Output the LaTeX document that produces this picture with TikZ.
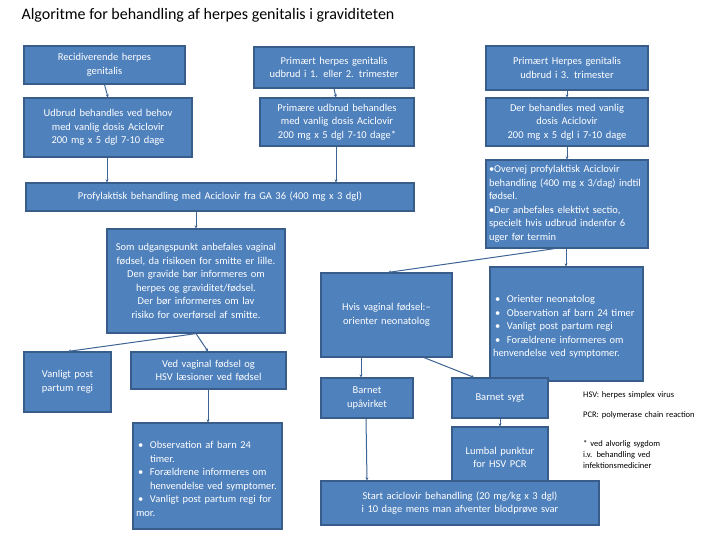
\documentclass[tikz,border=0pt]{standalone}
\usepackage{fontspec}
\setmainfont{Carlito}
\usetikzlibrary{arrows.meta,calc}
\definecolor{bfill}{HTML}{4F81BD}
\definecolor{bline}{HTML}{385D8A}
\hyphenpenalty=10000
\exhyphenpenalty=10000
\newcommand{\bx}[7][]{%
  \path let \p1=(#3,#4), \p2=(#5,#6) in
  node[box, minimum width={\x2-\x1}, minimum height={\y1-\y2}, text width={\x2-\x1-6pt}, #1] (#2) at ($(\p1)!0.5!(\p2)$) {#7};}
\newcommand{\bi}[1]{\par\hangindent=14pt\hangafter=1\noindent\makebox[14pt][l]{\kern2pt•}#1}
\begin{document}
\begin{tikzpicture}[x=1pt,y=-1pt,
  box/.style={draw=bline, line width=1.2pt, fill=bfill, text=white, font=\fontsize{10.5}{13.5}\selectfont, align=center, inner sep=1pt},
  lst/.style={align=left},
  con/.style={draw=bline!80!bfill, line width=1pt, -{Stealth[length=3pt,width=3pt]}}]
\useasboundingbox (0,0) rectangle (720,540);
\node[anchor=west, font=\fontsize{16}{18}\selectfont] (title) at (18,15) {Algoritme for behandling af herpes genitalis i graviditeten};
\bx{r1}{24}{46}{185}{84}{Recidiverende herpes\\genitalis}
\bx{r2}{24}{98}{192}{157}{Udbrud behandles ved behov med vanlig dosis Aciclovir 200 mg x 5 dgl 7-10 dage}
\bx{p1}{254}{47}{414}{88}{Primært herpes genitalis udbrud i 1. eller 2. trimester}
\bx{p2}{260}{98}{414}{146}{Primære udbrud behandles med vanlig dosis Aciclovir 200 mg x 5 dgl 7-10 dage*}
\bx{t1}{486}{46}{648}{90}{Primært Herpes genitalis\\udbrud i 3. trimester}
\bx{t2}{486}{98}{648}{146}{Der behandles med vanlig\\dosis Aciclovir\\200 mg x 5 dgl i 7-10 dage}
\bx[lst]{t3}{486}{160}{648}{248}{•Overvej profylaktisk Aciclovir behandling (400 mg x 3/dag) indtil fødsel.\par •Der anbefales elektivt sectio, specielt hvis udbrud indenfor 6 uger før termin}
\bx{prof}{26}{183}{414}{211}{Profylaktisk behandling med Aciclovir fra GA 36 (400 mg x 3 dgl)}
\bx{som}{107}{229}{285}{333}{Som udgangspunkt anbefales vaginal fødsel, da risikoen for smitte er lille.\\Den gravide bør informeres om herpes og graviditet/fødsel.\\Der bør informeres om lav risiko for overførsel af smitte.}
\bx{hvis}{321}{273}{452}{357}{Hvis vaginal fødsel:–\\orienter neonatolog}
\bx[lst]{ori}{490}{267}{643}{381}{\bi{Orienter neonatolog}\bi{Observation af barn 24 timer}\bi{Vanligt post partum regi}\bi{Forældrene informeres om henvendelse ved symptomer.}}
\bx{van}{24}{352}{111}{412}{Vanligt post\\partum regi}
\bx{ved}{131}{352}{286}{389}{Ved vaginal fødsel og HSV læsioner ved fødsel}
\bx[lst]{obs}{133}{423}{282}{529}{\bi{Observation af barn 24 timer.}\bi{Forældrene informeres om henvendelse ved symptomer.}\bi{Vanligt post partum regi for mor.}}
\bx{bup}{321}{378}{413}{418}{Barnet\\upåvirket}
\bx{bsy}{452}{378}{548}{418}{Barnet sygt}
\bx{lum}{452}{427}{548}{488}{Lumbal punktur\\for HSV PCR}
\bx{start}{321}{481}{599}{525}{Start aciclovir behandling (20 mg/kg x 3 dgl) i 10 dage mens man afventer blodprøve svar}
\begin{scope}[font=\fontsize{8.5}{11}\selectfont, anchor=north west, align=left, text width=122pt, inner sep=0pt]
\node (n1) at (583,391) {HSV: herpes simplex virus};
\node (n2) at (583,411) {PCR: polymerase chain reaction};
\node (n3) at (583,440) {* ved alvorlig sygdom i.v. behandling ved infektionsmediciner};
\end{scope}
\draw[con] (r1.south) -- (r2.north);
\draw[con] (r2.south -| 107,0) -- (prof.north -| 107,0);
\draw[con] (p1.south -| 334,0) -- (p2.north -| 336,0);
\draw[con] (p2.south -| 336,0) -- (prof.north -| 336,0);
\draw[con] (t1.south) -- (t2.north);
\draw[con] (t2.south) -- (t3.north);
\draw[con] (prof.south -| 196,0) -- (som.north -| 196,0);
\draw[con] (t3.south -| 555,0) -- (hvis.north -| 388,0);
\draw[con] (t3.south -| 566,0) -- (ori.north -| 566,0);
\draw[con] (som.south -| 196,0) -- (van.north -| 68,0);
\draw[con] (som.south -| 196,0) -- (ved.north -| 208,0);
\draw[con] (ved.south -| 208,0) -- (obs.north -| 208,0);
\draw[con] (hvis.south -| 361,0) -- (bup.north -| 361,0);
\draw[con] (hvis.south -| 424,0) -- (bsy.north -| 474,0);
\draw[con] (bup.south -| 366,0) -- (start.north -| 367,0);
\draw[con] (bsy.south) -- (lum.north);
\end{tikzpicture}
\end{document}
